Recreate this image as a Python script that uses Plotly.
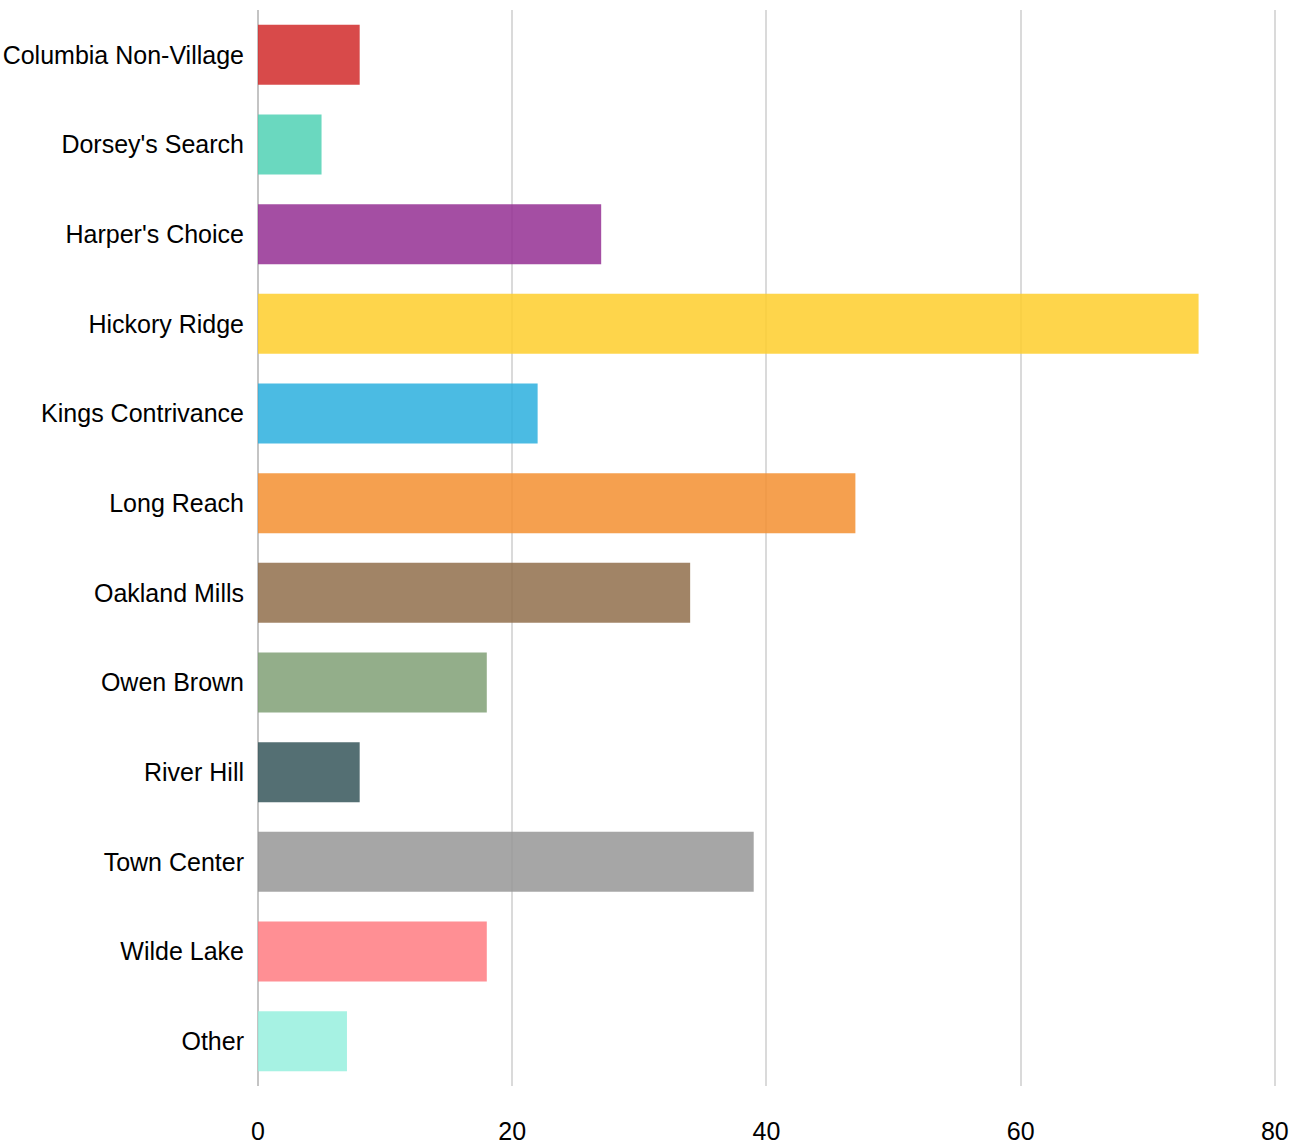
import plotly.graph_objects as go

# Responses per Columbia village
villages = [
    "Columbia Non-Village", "Dorsey's Search", "Harper's Choice", "Hickory Ridge",
    "Kings Contrivance", "Long Reach", "Oakland Mills", "Owen Brown",
    "River Hill", "Town Center", "Wilde Lake", "Other",
]
counts = [8, 5, 27, 74, 22, 47, 34, 18, 8, 39, 18, 7]
bar_colors = [
    "rgb(209,42,42)", "rgb(80,209,180)", "rgb(148,47,147)", "rgb(254,206,43)",
    "rgb(43,175,222)", "rgb(243,143,48)", "rgb(145,110,75)", "rgb(128,160,117)",
    "rgb(54,86,90)", "rgb(151,151,151)", "rgb(255,123,129)", "rgb(150,240,222)",
]
x_ticks = [0, 20, 40, 60, 80]

fig = go.Figure(
    go.Bar(
        x=counts,
        y=villages,
        orientation="h",
        marker=dict(color=bar_colors, opacity=0.85, line=dict(width=0)),
        hoverinfo="x+y",
    )
)

font_family = "Liberation Sans Narrow, Arial Narrow, Liberation Sans, Arial, sans-serif"

fig.update_layout(
    width=1301,
    height=1148,
    margin=dict(l=258, r=24, t=10, b=62, autoexpand=False),
    paper_bgcolor="white",
    plot_bgcolor="white",
    bargap=0.33,
    showlegend=False,
    font=dict(family=font_family, size=25, color="#000"),
    xaxis=dict(
        range=[0, 80.17],
        tickvals=x_ticks,
        ticktext=[str(v) for v in x_ticks],
        showgrid=True,
        gridcolor="#dadada",
        gridwidth=2,
        zeroline=True,
        zerolinecolor="#c4c4c4",
        zerolinewidth=2,
        showline=False,
        ticks="",
        ticklabelstandoff=28,
        automargin=False,
        tickfont=dict(size=25),
        fixedrange=True,
    ),
    yaxis=dict(
        categoryorder="array",
        categoryarray=villages,
        autorange="reversed",
        showgrid=False,
        zeroline=False,
        showline=False,
        ticks="",
        ticklabelstandoff=13,
        automargin=False,
        tickfont=dict(size=25),
        fixedrange=True,
    ),
)

fig.write_html("out.html")
